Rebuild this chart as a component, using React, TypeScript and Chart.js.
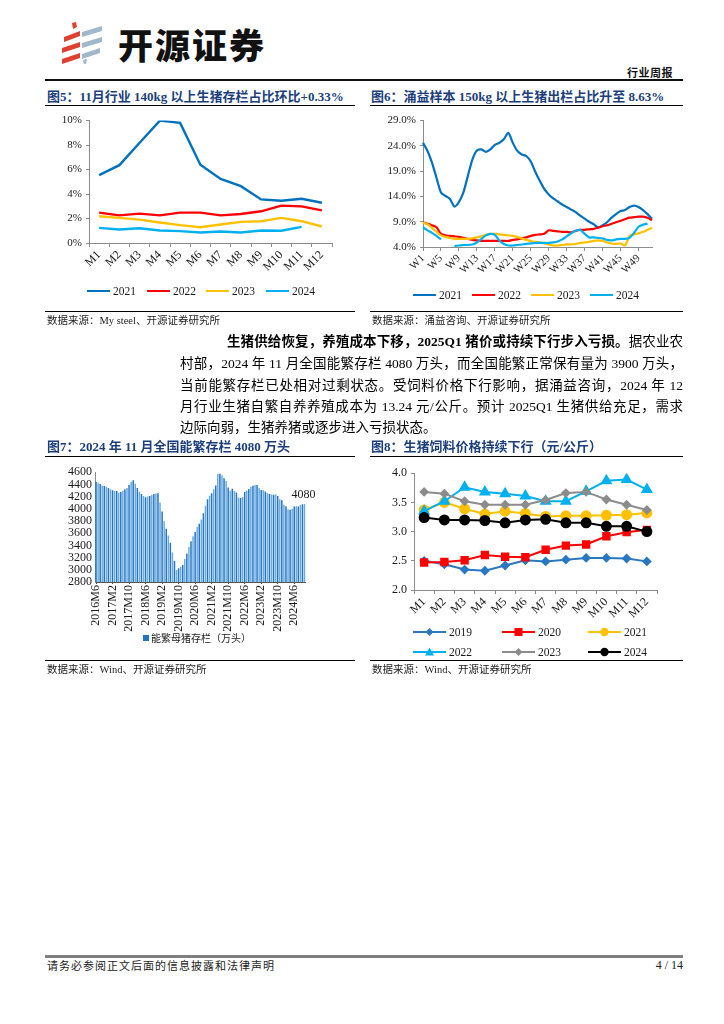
import React, { useEffect, useRef } from "react";
import { Chart, registerables } from "chart.js";

Chart.register(...registerables);

const SERIF = '"Liberation Serif", "Times New Roman", serif';
const MIXED = '"Liberation Serif", "Noto Sans CJK SC", serif';
const CJK = '"Noto Sans CJK SC", sans-serif';
const AXIS_GRAY = "#8c8c8c";
const TEXT = "#1a1a1a";
const TITLE_BLUE = "#1c3f7c";

// ---------- Fig 5: share of hogs above 140kg in stock (%) ----------
const monthLabels = ["M1", "M2", "M3", "M4", "M5", "M6", "M7", "M8", "M9", "M10", "M11", "M12"];
const yearLabels = ["2021", "2022", "2023", "2024"];
const share140_2021 = [5.55, 6.36, 8.19, 10.0, 9.81, 6.39, 5.23, 4.64, 3.56, 3.45, 3.61, 3.29];
const share140_2022 = [2.48, 2.26, 2.4, 2.26, 2.48, 2.48, 2.26, 2.37, 2.59, 3.05, 2.99, 2.67];
const share140_2023 = [2.18, 2.05, 1.91, 1.67, 1.46, 1.29, 1.51, 1.73, 1.78, 2.05, 1.78, 1.35];
const share140_2024 = [1.24, 1.1, 1.21, 1.02, 0.97, 0.86, 0.94, 0.86, 1.02, 1.0, 1.32, null];
const fig5YTicks = [0, 2, 4, 6, 8, 10];

// ---------- Fig 6: share of hogs above 150kg sold (%) ----------
const weekLabels = Array.from({ length: 52 }, (_, i) => "W" + (i + 1));
const share150_2021 = [24.6, 23.0, 20.7, 17.7, 14.8, 14.1, 13.5, 12.0, 12.9, 14.8, 18.1, 21.3, 23.1, 23.3, 22.8, 23.3, 24.2, 24.6, 25.3, 26.6, 24.6, 23.0, 22.3, 22.0, 20.9, 18.9, 17.1, 15.5, 14.4, 13.6, 13.0, 12.4, 11.9, 11.4, 10.9, 10.2, 9.6, 9.0, 8.5, 7.9, 8.3, 8.9, 9.8, 10.5, 11.1, 11.3, 11.9, 12.2, 11.9, 11.3, 10.5, 9.6];
const share150_2022 = [8.9, 8.6, 8.3, 7.9, 6.6, 6.3, 6.2, 6.1, 6.0, 5.8, 5.6, 5.4, 5.3, 5.2, 5.2, 5.2, 5.2, 5.2, 5.2, 5.2, 5.4, 5.5, 5.7, 5.9, 6.2, 6.4, 6.5, 6.6, 7.3, 7.2, 7.1, 7.0, 7.0, 6.9, 7.2, 7.4, 7.4, 7.5, 7.6, 7.8, 8.1, 8.3, 8.6, 8.9, 9.2, 9.5, 9.8, 9.9, 10.0, 10.0, 9.8, 9.3];
const share150_2023 = [8.8, 8.5, 7.8, 7.0, 6.3, 6.0, 5.8, 5.6, 5.6, 5.6, 5.6, 5.7, 5.9, 6.1, 6.4, 6.6, 6.6, 6.5, 6.4, 6.3, 6.2, 6.0, 5.7, 5.4, 5.2, 5.0, 4.9, 4.7, 4.5, 4.3, 4.3, 4.4, 4.5, 4.5, 4.6, 4.8, 4.9, 5.0, 5.2, 5.3, 5.2, 4.9, 4.7, 4.6, 4.7, 4.3, 6.2, 6.5, 6.7, 7.0, 7.4, 7.8];
const share150_2024 = [7.9, 7.3, 6.8, 6.2, 5.5, null, null, 4.2, 4.3, 4.4, 4.4, 4.5, 4.9, 5.6, 6.3, 6.6, 6.4, 5.3, 4.6, 4.3, 4.3, 4.4, 4.5, 4.6, 4.7, 4.8, 4.8, 4.8, 4.8, 4.9, 5.1, 5.5, 6.1, 6.7, 7.2, 7.4, 6.6, 5.9, 5.9, 5.8, 5.7, 5.4, 5.3, 5.5, 5.6, 5.6, 5.8, 6.8, 8.0, 8.4, 8.63, null];
const fig6YTicks = [4, 9, 14, 19, 24, 29];

// ---------- Fig 7: breeding sow stock (10k head) ----------
const sowLabels = Array.from({ length: 102 }, (_, i) => {
  const m = 6 + i;
  return 2016 + Math.floor((m - 1) / 12) + "M" + (((m - 1) % 12) + 1);
});
const sowStock = [
  4443, 4427, 4405, 4384, 4373, 4362, 4341, 4319, 4303, 4292, 4292, 4265, 4276, 4297, 4319, 4341, 4389, 4438, 4470, 4411,
  4341, 4281, 4244, 4211, 4190, 4200, 4211, 4227, 4244, 4249, 4254, 4103, 3957, 3796, 3672, 3564, 3445, 3284, 3144, 2998,
  3025, 3052, 3079, 3176, 3268, 3375, 3467, 3548, 3618, 3700, 3754, 3824, 3926, 4050, 4158, 4212, 4255, 4320, 4380, 4570,
  4575, 4550, 4500, 4455, 4350, 4296, 4329, 4290, 4268, 4185, 4177, 4192, 4277, 4298, 4324, 4362, 4379, 4390, 4390, 4343,
  4307, 4305, 4284, 4258, 4241, 4233, 4229, 4240, 4210, 4158, 4142, 4067, 4042, 3992, 3986, 3996, 4038, 4042, 4036, 4062,
  4073, 4080,
];
const fig7YTicks = [2800, 3000, 3200, 3400, 3600, 3800, 4000, 4200, 4400, 4600];

// ---------- Fig 8: hog feed price (yuan/kg) ----------
const feedYears = ["2019", "2020", "2021", "2022", "2023", "2024"];
const feed2019 = [2.5, 2.44, 2.35, 2.33, 2.42, 2.51, 2.49, 2.52, 2.55, 2.55, 2.54, 2.49];
const feed2020 = [2.47, 2.48, 2.51, 2.6, 2.57, 2.56, 2.69, 2.76, 2.78, 2.92, 2.99, 3.03];
const feed2021 = [3.37, 3.5, 3.39, 3.3, 3.35, 3.31, 3.26, 3.27, 3.27, 3.28, 3.29, 3.32];
const feed2022 = [3.35, 3.52, 3.76, 3.68, 3.65, 3.61, 3.52, 3.52, 3.69, 3.87, 3.89, 3.72];
const feed2023 = [3.68, 3.65, 3.52, 3.46, 3.46, 3.46, 3.54, 3.66, 3.68, 3.55, 3.46, 3.37];
const feed2024 = [3.24, 3.2, 3.2, 3.19, 3.15, 3.2, 3.21, 3.15, 3.15, 3.09, 3.09, 3.0];
const fig8YTicks = [2.0, 2.5, 3.0, 3.5, 4.0];

const YEAR_COLORS = ["#0070C0", "#FF0000", "#FFC000", "#00B0F0"];
const FEED_COLORS = ["#2a78c2", "#FF0000", "#FFC000", "#00B0F0", "#8c8c8c", "#000000"];
const FEED_MARKERS = ["rectRot", "rect", "circle", "triangle", "rectRot", "circle"];
const FEED_RADII = [3.5, 4.5, 4.5, 5, 3.5, 4.5];

function tickFont(size: number) {
  return { family: SERIF, size };
}

function fixedTicks(values: number[]) {
  return (scale: any) => {
    scale.ticks = values.map((v) => ({ value: v }));
  };
}

function ChartCanvas({ left, top, width, height, make }: any) {
  const ref = useRef<HTMLCanvasElement>(null);
  useEffect(() => {
    const chart = new Chart(ref.current as HTMLCanvasElement, make());
    return () => chart.destroy();
  }, []);
  return (
    <canvas
      ref={ref}
      width={width}
      height={height}
      style={{ position: "absolute", left, top, width, height }}
    />
  );
}

const baseOptions = (padding: any) => ({
  responsive: false,
  animation: false,
  devicePixelRatio: 1,
  layout: { padding },
  plugins: { legend: { display: false }, tooltip: { enabled: false } },
});

function makeFig5() {
  const series = [share140_2021, share140_2022, share140_2023, share140_2024];
  return {
    type: "line",
    data: {
      labels: monthLabels,
      datasets: series.map((d, i) => ({
        label: yearLabels[i],
        data: d,
        borderColor: YEAR_COLORS[i],
        backgroundColor: YEAR_COLORS[i],
        borderWidth: 2.4,
        pointRadius: 0,
        tension: 0,
        order: 10 - i,
      })),
    },
    options: {
      ...baseOptions({ top: 9, right: 13, left: 0, bottom: 0 }),
      scales: {
        x: {
          offset: true,
          grid: { drawOnChartArea: false, drawTicks: true, tickLength: 4, offset: true, color: AXIS_GRAY },
          border: { display: true, color: AXIS_GRAY },
          ticks: { autoSkip: false, minRotation: 45, maxRotation: 45, padding: 1, color: TEXT, font: tickFont(12) },
          afterFit: (s: any) => { s.height = 42; },
        },
        y: {
          min: 0,
          max: 10,
          afterBuildTicks: fixedTicks(fig5YTicks),
          grid: { drawOnChartArea: false, drawTicks: true, tickLength: 3, color: AXIS_GRAY },
          border: { display: true, color: AXIS_GRAY },
          ticks: { autoSkip: false, padding: 4, color: TEXT, font: tickFont(11), callback: (v: any) => v + "%" },
          afterFit: (s: any) => { s.width = 44; },
        },
      },
    },
  };
}

function makeFig6() {
  const series = [share150_2021, share150_2022, share150_2023, share150_2024];
  return {
    type: "line",
    data: {
      labels: weekLabels,
      datasets: series.map((d, i) => ({
        label: yearLabels[i],
        data: d,
        borderColor: YEAR_COLORS[i],
        backgroundColor: YEAR_COLORS[i],
        borderWidth: 2.2,
        pointRadius: 0,
        tension: 0.25,
        spanGaps: false,
        order: 10 - i,
      })),
    },
    options: {
      ...baseOptions({ top: 9, right: 18, left: 0, bottom: 0 }),
      scales: {
        x: {
          offset: false,
          grid: {
            drawOnChartArea: false,
            drawTicks: true,
            tickLength: 4,
            color: (ctx: any) => (ctx.index % 4 === 0 ? AXIS_GRAY : "rgba(0,0,0,0)"),
          },
          border: { display: true, color: AXIS_GRAY },
          ticks: {
            autoSkip: false,
            minRotation: 45,
            maxRotation: 45,
            padding: 1,
            color: TEXT,
            font: tickFont(11),
            callback: (_v: any, i: number) => (i % 4 === 0 ? weekLabels[i] : ""),
          },
          afterFit: (s: any) => { s.height = 38; },
        },
        y: {
          min: 4,
          max: 29,
          afterBuildTicks: fixedTicks(fig6YTicks),
          grid: { drawOnChartArea: false, drawTicks: true, tickLength: 3, color: AXIS_GRAY },
          border: { display: true, color: AXIS_GRAY },
          ticks: { autoSkip: false, padding: 4, color: TEXT, font: tickFont(11), callback: (v: any) => Number(v).toFixed(1) + "%" },
          afterFit: (s: any) => { s.width = 53; },
        },
      },
    },
  };
}

const lastValueLabel = {
  id: "lastValueLabel",
  afterDatasetsDraw(chart: any) {
    const meta = chart.getDatasetMeta(0);
    const idx = meta.data.length - 1;
    const el = meta.data[idx];
    const value = chart.data.datasets[0].data[idx];
    const ctx = chart.ctx;
    ctx.save();
    ctx.font = "12px " + SERIF;
    ctx.fillStyle = TEXT;
    ctx.textAlign = "center";
    ctx.textBaseline = "bottom";
    ctx.fillText(String(value), el.x - 1, el.y - 3);
    ctx.restore();
  },
};

function makeFig7() {
  return {
    type: "bar",
    data: {
      labels: sowLabels,
      datasets: [
        {
          label: "能繁母猪存栏（万头）",
          data: sowStock,
          backgroundColor: sowStock.map((_, i) => (i % 2 === 0 ? "#1f74c4" : "#6aa9df")),
          borderWidth: 0,
          barPercentage: 0.72,
          categoryPercentage: 1,
        },
      ],
    },
    plugins: [lastValueLabel],
    options: {
      ...baseOptions({ top: 9, right: 11, left: 0, bottom: 0 }),
      scales: {
        x: {
          offset: true,
          grid: {
            drawOnChartArea: false,
            drawTicks: true,
            tickLength: 2,
            offset: false,
            color: (ctx: any) => (ctx.index % 8 === 0 ? "#555" : "rgba(0,0,0,0)"),
          },
          border: { display: true, color: "#555" },
          ticks: {
            autoSkip: false,
            minRotation: 90,
            maxRotation: 90,
            padding: 1,
            color: TEXT,
            font: tickFont(12),
            callback: (_v: any, i: number) => (i % 8 === 0 ? sowLabels[i] : ""),
          },
          afterFit: (s: any) => { s.height = 52; },
        },
        y: {
          min: 2800,
          max: 4600,
          afterBuildTicks: fixedTicks(fig7YTicks),
          grid: { drawOnChartArea: false, drawTicks: false, color: AXIS_GRAY },
          border: { display: true, color: AXIS_GRAY },
          ticks: { autoSkip: false, padding: 3, color: TEXT, font: tickFont(12), callback: (v: any) => String(v) },
          afterFit: (s: any) => { s.width = 50; },
        },
      },
    },
  };
}

function makeFig8() {
  const series = [feed2019, feed2020, feed2021, feed2022, feed2023, feed2024];
  return {
    type: "line",
    data: {
      labels: monthLabels,
      datasets: series.map((d, i) => ({
        label: feedYears[i],
        data: d,
        borderColor: FEED_COLORS[i],
        backgroundColor: FEED_COLORS[i],
        pointBackgroundColor: FEED_COLORS[i],
        pointBorderColor: FEED_COLORS[i],
        pointStyle: FEED_MARKERS[i],
        pointRadius: FEED_RADII[i],
        borderWidth: 2,
        tension: 0,
        order: 10 - i,
      })),
    },
    options: {
      ...baseOptions({ top: 10, right: 13, left: 0, bottom: 0 }),
      scales: {
        x: {
          offset: true,
          grid: { drawOnChartArea: false, drawTicks: true, tickLength: 4, offset: true, color: AXIS_GRAY },
          border: { display: true, color: AXIS_GRAY },
          ticks: { autoSkip: false, minRotation: 45, maxRotation: 45, padding: 1, color: TEXT, font: tickFont(12) },
          afterFit: (s: any) => { s.height = 32; },
        },
        y: {
          min: 2,
          max: 4,
          afterBuildTicks: fixedTicks(fig8YTicks),
          grid: { drawOnChartArea: false, drawTicks: true, tickLength: 3, color: AXIS_GRAY },
          border: { display: true, color: AXIS_GRAY },
          ticks: { autoSkip: false, padding: 4, color: TEXT, font: tickFont(12), callback: (v: any) => Number(v).toFixed(1) },
          afterFit: (s: any) => { s.width = 44; },
        },
      },
    },
  };
}

function Abs({ left, top, style, children }: any) {
  return <div style={{ position: "absolute", left, top, ...style }}>{children}</div>;
}

function HLine({ left, top, width, height = 1, color = "#000" }: any) {
  return <div style={{ position: "absolute", left, top, width, height, background: color }} />;
}

function Title({ left, top, text }: any) {
  return (
    <Abs left={left} top={top} style={{ font: `700 13px ${MIXED}`, color: TITLE_BLUE, lineHeight: "14px", whiteSpace: "nowrap" }}>
      {text}
    </Abs>
  );
}

function Source({ left, top, text }: any) {
  return (
    <Abs left={left} top={top} style={{ font: `400 10.5px ${MIXED}`, color: "#222", lineHeight: "12px", whiteSpace: "nowrap" }}>
      {text}
    </Abs>
  );
}

function LineLegend({ items, top }: any) {
  return (
    <>
      {items.map((it: any) => (
        <React.Fragment key={it.label}>
          <div style={{ position: "absolute", left: it.x, top: top - 1.25, width: 23, height: 2.5, background: it.color }} />
          <Abs left={it.x + 26} top={top - 7} style={{ font: `11.5px ${SERIF}`, color: TEXT, lineHeight: "14px" }}>
            {it.label}
          </Abs>
        </React.Fragment>
      ))}
    </>
  );
}

function Marker({ kind, color }: any) {
  const c = 16.5;
  const y = 5;
  if (kind === "rectRot") return <polygon points={`${c},${y - 4} ${c + 4},${y} ${c},${y + 4} ${c - 4},${y}`} fill={color} />;
  if (kind === "rect") return <rect x={c - 4} y={y - 4} width={8} height={8} fill={color} />;
  if (kind === "triangle") return <polygon points={`${c},${y - 4.5} ${c + 4.5},${y + 3.5} ${c - 4.5},${y + 3.5}`} fill={color} />;
  return <circle cx={c} cy={y} r={4.2} fill={color} />;
}

function FeedLegend() {
  const cols = [413, 502, 588];
  const rows = [632, 652];
  return (
    <>
      {feedYears.map((yr, i) => {
        const x = cols[i % 3];
        const y = rows[Math.floor(i / 3)];
        return (
          <React.Fragment key={yr}>
            <svg style={{ position: "absolute", left: x, top: y - 5 }} width={33} height={10}>
              <line x1={0} y1={5} x2={33} y2={5} stroke={FEED_COLORS[i]} strokeWidth={2} />
              <Marker kind={FEED_MARKERS[i]} color={FEED_COLORS[i]} />
            </svg>
            <Abs left={x + 36} top={y - 7} style={{ font: `11.5px ${SERIF}`, color: TEXT, lineHeight: "14px" }}>
              {yr}
            </Abs>
          </React.Fragment>
        );
      })}
    </>
  );
}

function BodyLine({ top, left, text, justify = true, children }: any) {
  return (
    <div
      style={{
        position: "absolute",
        left,
        top,
        width: 683 - left,
        font: `400 13.5px ${MIXED}`,
        lineHeight: "22px",
        color: "#000",
        textAlign: justify ? "justify" : "left",
        textAlignLast: justify ? "justify" : "left",
        whiteSpace: "nowrap",
      } as any}
    >
      {children || text}
    </div>
  );
}

export default function App() {
  return (
    <div style={{ position: "absolute", left: 0, top: 0, width: 724, height: 1024, background: "#fff", overflow: "hidden" }}>
      {/* header */}
      <svg style={{ position: "absolute", left: 60, top: 22 }} width={46} height={44} viewBox="0 0 46 44">
        <polygon points="12,1 16,0 17,5 13,7" fill="#e0402f" />
        <polygon points="4,15 20,9 20,14 4,20" fill="#e0402f" />
        <polygon points="2,26 20,20 20,25 2,31" fill="#e0402f" />
        <polygon points="2,37 20,31 20,36 2,42" fill="#e0402f" />
        <polygon points="22,10 42,4 42,9 22,15" fill="#9fb8cc" />
        <polygon points="22,21 42,15 42,20 22,26" fill="#9fb8cc" />
        <polygon points="22,32 40,26 40,31 22,37" fill="#9fb8cc" />
        <polygon points="23,38 27,37 26,42 24,42" fill="#9fb8cc" />
      </svg>
      <Abs left={118} top={24} style={{ font: `900 35px ${CJK}`, color: "#111", lineHeight: "40px", letterSpacing: "2px", whiteSpace: "nowrap" }}>
        开源证券
      </Abs>
      <Abs left={627} top={66} style={{ font: `700 11px ${CJK}`, color: "#111", lineHeight: "12px", letterSpacing: "0.5px" }}>
        行业周报
      </Abs>
      <HLine left={45} top={79} width={638} height={1.5} color="#111" />

      {/* Fig 5 and Fig 6 */}
      <Title left={47} top={90} text="图5：11月行业 140kg 以上生猪存栏占比环比+0.33%" />
      <HLine left={45} top={105} width={310} />
      <Title left={371} top={90} text="图6：涌益样本 150kg 以上生猪出栏占比升至 8.63%" />
      <HLine left={370} top={105} width={313} />

      <ChartCanvas left={45} top={110} width={300} height={175} make={makeFig5} />
      <LineLegend
        top={291}
        items={yearLabels.map((l, i) => ({ label: l, color: YEAR_COLORS[i], x: [87, 147, 206, 266][i] }))}
      />
      <ChartCanvas left={370} top={110} width={300} height={175} make={makeFig6} />
      <LineLegend
        top={295}
        items={yearLabels.map((l, i) => ({ label: l, color: YEAR_COLORS[i], x: [413, 472, 531, 590][i] }))}
      />

      <HLine left={45} top={311} width={310} />
      <Source left={47} top={315} text="数据来源：My steel、开源证券研究所" />
      <HLine left={370} top={311} width={313} />
      <Source left={372} top={315} text="数据来源：涌益咨询、开源证券研究所" />

      {/* body text */}
      <BodyLine top={331} left={227}>
        <b style={{ fontWeight: 700 }}>生猪供给恢复，养殖成本下移，2025Q1 猪价或持续下行步入亏损。</b>据农业农
      </BodyLine>
      <BodyLine top={353} left={180} text="村部，2024 年 11 月全国能繁存栏 4080 万头，而全国能繁正常保有量为 3900 万头，" />
      <BodyLine top={375} left={180} text="当前能繁存栏已处相对过剩状态。受饲料价格下行影响，据涌益咨询，2024 年 12" />
      <BodyLine top={396} left={180} text="月行业生猪自繁自养养殖成本为 13.24 元/公斤。预计 2025Q1 生猪供给充足，需求" />
      <BodyLine top={417} left={180} justify={false} text="边际向弱，生猪养猪或逐步进入亏损状态。" />

      {/* Fig 7 and Fig 8 */}
      <Title left={47} top={440} text="图7：2024 年 11 月全国能繁存栏 4080 万头" />
      <HLine left={45} top={456} width={310} />
      <Title left={371} top={440} text="图8：生猪饲料价格持续下行（元/公斤）" />
      <HLine left={370} top={456} width={313} />

      <ChartCanvas left={45} top={462} width={275} height={172} make={makeFig7} />
      <div style={{ position: "absolute", left: 143, top: 635, width: 6, height: 6, background: "#1f74c4" }} />
      <Abs left={151} top={632} style={{ font: `400 10px ${CJK}`, color: TEXT, lineHeight: "12px", whiteSpace: "nowrap" }}>
        能繁母猪存栏（万头）
      </Abs>

      <ChartCanvas left={370} top={462} width={300} height={160} make={makeFig8} />
      <FeedLegend />

      <HLine left={45} top={660} width={310} />
      <Source left={47} top={664} text="数据来源：Wind、开源证券研究所" />
      <HLine left={370} top={660} width={313} />
      <Source left={372} top={664} text="数据来源：Wind、开源证券研究所" />

      {/* footer */}
      <HLine left={45} top={955} width={638} height={2.5} color="#7f7f7f" />
      <Abs left={47} top={959} style={{ font: `400 11px ${CJK}`, color: "#222", lineHeight: "13px", letterSpacing: "1px", whiteSpace: "nowrap" }}>
        请务必参阅正文后面的信息披露和法律声明
      </Abs>
      <Abs left={640} top={958} style={{ font: `12px ${SERIF}`, color: "#222", lineHeight: "14px", width: 43, textAlign: "right" }}>
        4 / 14
      </Abs>
    </div>
  );
}
